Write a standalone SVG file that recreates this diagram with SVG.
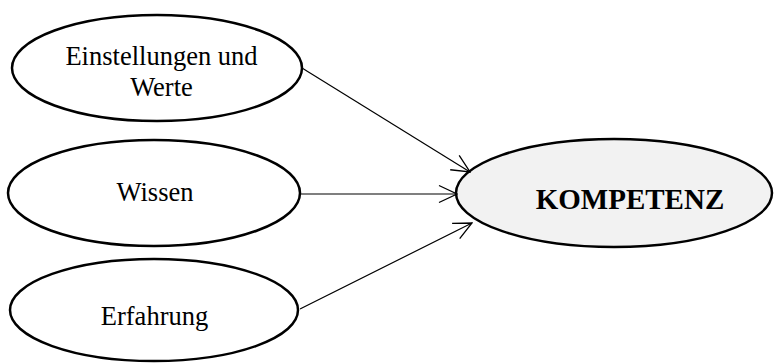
<svg xmlns="http://www.w3.org/2000/svg" width="774" height="363" viewBox="0 0 774 363">
<defs>
<style>
.n{fill:#fff;stroke:#000;stroke-width:2.5}
.k{fill:#f2f2f2;stroke:#000;stroke-width:2.5}
.t{font-family:"Liberation Serif","Times New Roman",serif;font-size:26.5px;fill:#000;text-anchor:middle}
.b{font-weight:bold;font-size:29px}
.c{stroke:#000;stroke-width:1.2;fill:none}
</style>
<marker id="ah" viewBox="0 0 20 20" refX="19" refY="10" markerWidth="20" markerHeight="20" markerUnits="userSpaceOnUse" orient="auto">
<path d="M1,1.5 L19,10 L1,18.5" fill="none" stroke="#000" stroke-width="1.3"/>
</marker>
</defs>
<rect width="774" height="363" fill="#fff"/>
<g id="n1"><ellipse class="n" cx="157" cy="68" rx="145" ry="53"/>
<text class="t" x="161.5" y="65">Einstellungen und</text>
<text class="t" x="161.5" y="96">Werte</text></g>
<g id="n2"><ellipse class="n" cx="154" cy="193" rx="146" ry="53"/>
<text class="t" x="155" y="201">Wissen</text></g>
<g id="n3"><ellipse class="n" cx="154" cy="310" rx="144" ry="51"/>
<text class="t" x="154.5" y="325">Erfahrung</text></g>
<g id="n4"><ellipse class="k" cx="614" cy="193" rx="158" ry="54"/>
<text class="t b" x="630" y="209">KOMPETENZ</text></g>
<g id="connectors">
<line class="c" x1="302" y1="68" x2="470" y2="172" marker-end="url(#ah)"/>
<line class="c" x1="301" y1="194" x2="457" y2="194" marker-end="url(#ah)"/>
<line class="c" x1="300" y1="309" x2="472" y2="223" marker-end="url(#ah)"/>
</g>
</svg>
